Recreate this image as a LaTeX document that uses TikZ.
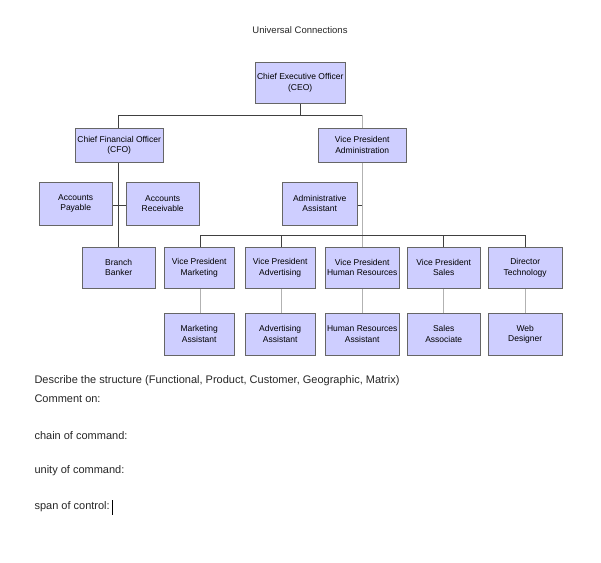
\documentclass[tikz,border=0pt]{standalone}
\usepackage{fontspec}
\setmainfont{Liberation Sans}
\begin{document}
\begin{tikzpicture}[x=1pt,y=-1pt,
  box/.style={draw=gray!80!black,fill={rgb,255:red,206;green,206;blue,255},inner sep=0pt,align=center,font=\fontsize{8.5}{10.5}\selectfont,anchor=north west},
  ln/.style={draw=black!75,line width=0.6pt},
  ln2/.style={draw=gray!60,line width=0.6pt},
  txt/.style={anchor=west,font=\fontsize{11}{13}\selectfont,text=black!85}]
\useasboundingbox (0,0) rectangle (601,562);
\fill[white] (0,0) rectangle (601,562);
\node[font=\fontsize{9.5}{11}\selectfont,text=black!85] (title) at (300,30) {Universal Connections};
% connectors first
\coordinate (j1) at (118,115); \coordinate (j2) at (362,115);
\coordinate (b1) at (200,235); \coordinate (b5) at (525,235);
\draw[ln] (300,103) -- (300,115);
\draw[ln] (j1) -- (j2);
\draw[ln] (j1) -- (118,247);
\draw[ln] (112,205) -- (126,205);
\draw[ln2] (j2) -- (362,313);
\draw[ln] (357,205) -- (362,205);
\draw[ln] (b1) -- (b5);
\foreach \x in {200,281,443,525} \draw[ln] (\x,235) -- (\x,247);
\foreach \x in {200,281,443,525} \draw[ln2] (\x,288) -- (\x,313);
% boxes
\node[box,minimum width=90,minimum height=41] (ceo) at (255,62) {Chief Executive Officer\\(CEO)};
\node[box,minimum width=88,minimum height=34] (cfo) at (75,128) {Chief Financial Officer\\(CFO)};
\node[box,minimum width=88,minimum height=34] (vpa) at (318,128) {Vice President\\Administration};
\node[box,minimum width=73,minimum height=43] (ap) at (39,182) {Accounts\\Payable};
\node[box,minimum width=73,minimum height=43] (ar) at (126,182) {Accounts\\Receivable};
\node[box,minimum width=75,minimum height=43] (aa) at (282,182) {Administrative\\Assistant};
\node[box,minimum width=73,minimum height=41] (bb) at (82,247) {Branch\\Banker};
\node[box,minimum width=70,minimum height=41] (vpm) at (164,247) {Vice President\\Marketing};
\node[box,minimum width=70,minimum height=41] (vpad) at (245,247) {Vice President\\Advertising};
\node[box,minimum width=74,minimum height=41] (vphr) at (325,247) {Vice President\\Human Resources};
\node[box,minimum width=73,minimum height=41] (vps) at (407,247) {Vice President\\Sales};
\node[box,minimum width=74,minimum height=41] (dt) at (488,247) {Director\\Technology};
\node[box,minimum width=70,minimum height=42] (ma) at (164,313) {Marketing\\Assistant};
\node[box,minimum width=70,minimum height=42] (ada) at (245,313) {Advertising\\Assistant};
\node[box,minimum width=74,minimum height=42] (hra) at (325,313) {Human Resources\\Assistant};
\node[box,minimum width=73,minimum height=42] (sa) at (407,313) {Sales\\Associate};
\node[box,minimum width=74,minimum height=42] (wd) at (488,313) {Web\\Designer};
% text
\node[txt] (t1) at (31,381) {Describe the structure (Functional, Product, Customer, Geographic, Matrix)};
\node[txt] (t2) at (31,399) {Comment on:};
\node[txt] (t3) at (31,436) {chain of command:};
\node[txt] (t4) at (31,471) {unity of command:};
\node[txt] (t5) at (31,507) {span of control:};
\draw[black,line width=0.8pt] (t5.east) ++(-1,-7) -- ++(0,15);
\end{tikzpicture}
\end{document}
